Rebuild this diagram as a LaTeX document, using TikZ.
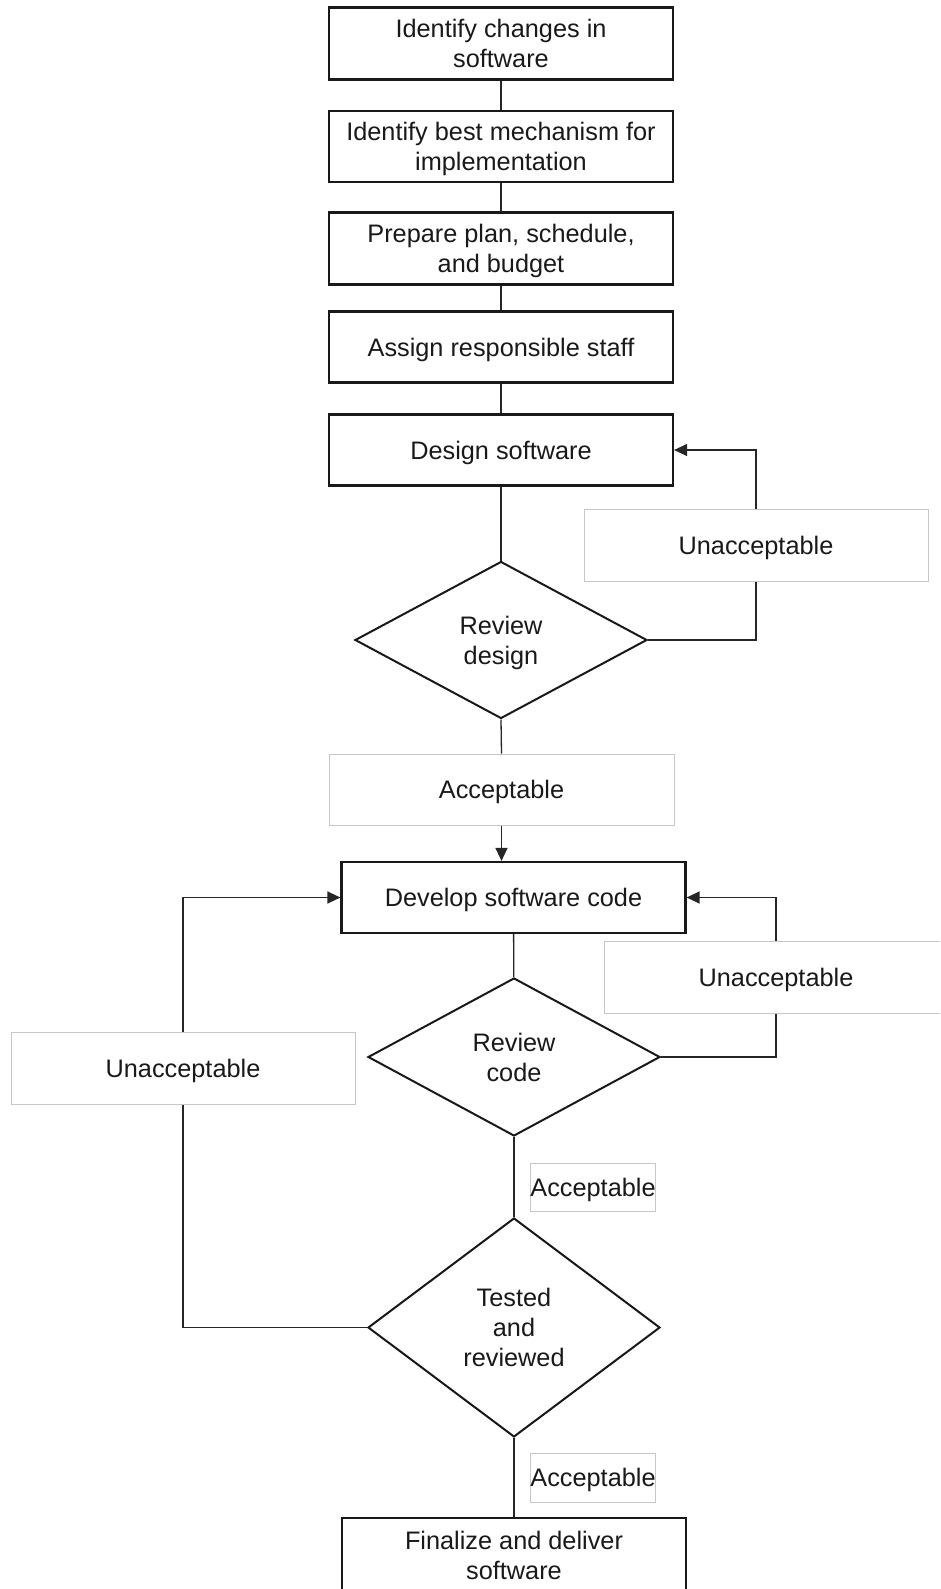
\documentclass[tikz,border=0pt]{standalone}
\usepackage{fontspec}
\setmainfont{Liberation Sans}
\usetikzlibrary{shapes.geometric,arrows.meta}
\newcommand{\tx}[1]{\raisebox{-3pt}[\height][\depth]{\begin{tabular}{@{}c@{}}#1\end{tabular}}}
\begin{document}
\begin{tikzpicture}[x=1pt,y=-1pt,
  font=\fontsize{25.3}{30}\selectfont,
  stepbox/.style={draw=black!90, line width=2.2pt, minimum width=344pt, minimum height=71pt, inner sep=0pt, text=black!90},
  decision/.style={diamond, draw=black!90, line width=2pt, minimum width=292pt, minimum height=157pt, inner sep=0pt, text=black!90},
  lbl/.style={draw=black!22, line width=1pt, fill=white, inner sep=0pt, text=black!90},
  conn/.style={line width=1.3pt, draw=black!85},
  arr/.style={conn, -{Triangle[length=13pt,width=12pt]}}]
\useasboundingbox (0,0) rectangle (940,1589);
\clip (0,0) rectangle (940,1589);
% main steps
\node[stepbox, minimum height=72pt] (b1) at (501,43.5) {\tx{Identify changes in\\software}};
\node[stepbox] (b2) at (501,146.5) {\tx{Identify best mechanism for\\implementation}};
\node[stepbox, minimum height=72pt] (b3) at (501,248.5) {\tx{Prepare plan, schedule,\\and budget}};
\node[stepbox] (b4) at (501,347) {\tx{Assign responsible staff}};
\node[stepbox] (b5) at (501,450) {\tx{Design software}};
\node[decision] (d1) at (501,640) {\tx{Review\\design}};
\node[lbl, minimum width=344pt, minimum height=72pt] (u1) at (756,545) {\tx{Unacceptable}};
\node[lbl, minimum width=345pt, minimum height=71pt] (a1) at (501.5,789.5) {\tx{Acceptable}};
\node[stepbox] (b6) at (513.5,897.5) {\tx{Develop software code}};
\node[lbl, minimum width=344pt, minimum height=72pt] (u2) at (776,977) {\tx{Unacceptable}};
\node[decision, minimum height=158pt] (d2) at (514,1057) {\tx{Review\\code}};
\node[lbl, minimum width=344pt, minimum height=72pt] (u3) at (183,1068) {\tx{Unacceptable}};
\node[lbl, minimum width=124pt, minimum height=48pt] (a2) at (593,1187) {\tx{Acceptable}};
\node[decision, minimum height=219pt] (d3) at (514,1327.5) {\tx{Tested\\and\\reviewed}};
\node[lbl, minimum width=124pt, minimum height=49pt] (a3) at (593,1477.5) {\tx{Acceptable}};
\node[stepbox, minimum height=74pt] (b7) at (514,1555) {\tx{Finalize and deliver\\software}};
% connectors
\draw[conn] (b1) -- (b2);
\draw[conn] (b2) -- (b3);
\draw[conn] (b3) -- (b4);
\draw[conn] (b4) -- (b5);
\draw[conn] (b5) -- (d1);
\draw[conn] (d1.east) -| (u1.south);
\draw[arr] (u1.north) |- (b5.east);
\draw[conn] (d1.south) -- (a1.north);
\draw[arr] (a1.south) -- (a1.south |- b6.north);
\draw[conn] (b6) -- (d2);
\draw[conn] (d2.east) -| (u2.south);
\draw[arr] (u2.north) |- (b6.east);
\draw[conn] (d2.south) -- (d3.north);
\draw[conn] (d3.west) -| (u3.south);
\draw[arr] (u3.north) |- (b6.west);
\draw[conn] (d3.south) -- (b7.north);
\end{tikzpicture}
\end{document}
